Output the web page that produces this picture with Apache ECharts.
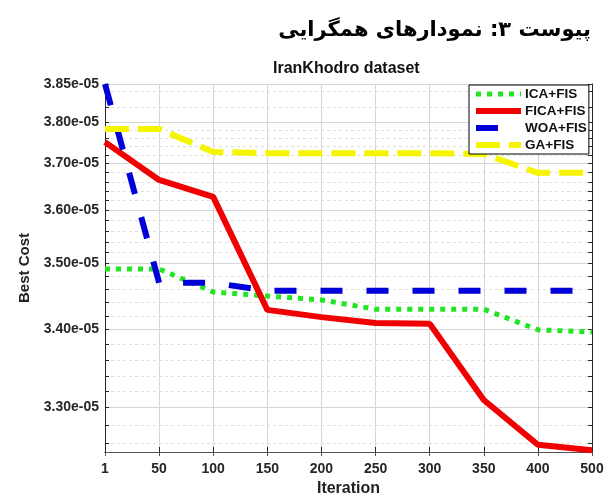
<!DOCTYPE html>
<html>
<head>
<meta charset="utf-8">
<script src="https://cdn.jsdelivr.net/npm/echarts@6/dist/echarts.min.js"></script>
<style>
html, body { margin: 0; padding: 0; background: #fff; }
#chart { width: 609px; height: 497px; }
</style>
</head>
<body>
<div id="chart"></div>
<script>
// iterations shown on the x axis (evenly spaced, 450 skipped in the original)
var iterations = ['1', '50', '100', '150', '200', '250', '300', '350', '400', '500'];

// best cost per method
var icaFis  = [3.491e-5, 3.491e-5, 3.456e-5, 3.450e-5, 3.444e-5, 3.430e-5, 3.430e-5, 3.430e-5, 3.399e-5, 3.396e-5];
var ficaFis = [3.751e-5, 3.664e-5, 3.628e-5, 3.429e-5, 3.418e-5, 3.409e-5, 3.408e-5, 3.309e-5, 3.258e-5, 3.252e-5];
var woaFis  = [3.850e-5, 3.470e-5, 3.470e-5, 3.458e-5, 3.458e-5, 3.458e-5, 3.458e-5, 3.458e-5, 3.458e-5, 3.458e-5];
var gaFis   = [3.783e-5, 3.783e-5, 3.727e-5, 3.724e-5, 3.724e-5, 3.724e-5, 3.724e-5, 3.722e-5, 3.679e-5, 3.679e-5];

var yTickLabels = [3.30e-5, 3.40e-5, 3.50e-5, 3.60e-5, 3.70e-5, 3.80e-5, 3.85e-5];

// the original y axis is non-linear: knots of that scale (value -> axis units)
var scaleValues = [3.25e-5, 3.30e-5, 3.40e-5, 3.50e-5, 3.60e-5, 3.70e-5, 3.80e-5, 3.85e-5];
var scaleUnits  = [0, 45, 123, 189, 242, 289, 330, 368];

function warp(v) {
    for (var i = 1; i < scaleValues.length; i++) {
        if (v <= scaleValues[i] || i == scaleValues.length - 1) {
            var t = (v - scaleValues[i - 1]) / (scaleValues[i] - scaleValues[i - 1]);
            return scaleUnits[i - 1] + t * (scaleUnits[i] - scaleUnits[i - 1]);
        }
    }
}
function unwarp(u) {
    for (var i = 1; i < scaleUnits.length; i++) {
        if (u <= scaleUnits[i] + 1e-6 || i == scaleUnits.length - 1) {
            var t = (u - scaleUnits[i - 1]) / (scaleUnits[i] - scaleUnits[i - 1]);
            return scaleValues[i - 1] + t * (scaleValues[i] - scaleValues[i - 1]);
        }
    }
}

// minor grid every 0.02e-05
var minorValues = [];
for (var k = 326; k <= 384; k += 2) {
    if (k % 10 != 0) minorValues.push(k / 100 * 1e-5);
}

var font = 'Liberation Sans, Arial, sans-serif';
var majorPos = yTickLabels.map(warp);
var minorPos = minorValues.map(warp);
var allTicks = majorPos.concat(minorPos);

// hidden y axes that only carry the grid lines
var gridAxis = function (ticks, lineStyle) {
    return {
        type: 'value', min: 0, max: 368, position: 'left',
        axisLine: { show: false },
        axisTick: { show: false, customValues: ticks },
        axisLabel: { show: false },
        splitLine: { show: true, lineStyle: lineStyle }
    };
};

var styles = {
    'ICA+FIS':  { color: '#1fe61f', width: 5, type: [5, 6] },
    'FICA+FIS': { color: '#f00000', width: 6, type: 'solid' },
    'WOA+FIS':  { color: '#0000d8', width: 6, type: [22, 24] },
    'GA+FIS':   { color: '#f5f500', width: 6, type: [24, 9] }
};

var legendItem = function (name) {
    return { name: name, itemStyle: { opacity: 0 }, lineStyle: styles[name] };
};

var lineSeries = function (name, values) {
    return {
        name: name,
        type: 'line',
        data: values.map(warp),
        symbol: 'none',
        itemStyle: { color: styles[name].color },
        lineStyle: styles[name]
    };
};

var chart = echarts.init(document.getElementById('chart'));

var option = {
    animation: false,
    backgroundColor: '#fff',
    title: [{
        text: 'پیوست ۳: نمودارهای همگرایی',
        right: 18,
        top: 20,
        padding: 0,
        textStyle: { fontSize: 21, fontWeight: 'bold', fontFamily: 'DejaVu Sans, Noto Sans, sans-serif', color: '#000' }
    }, {
        text: 'IranKhodro dataset',
        left: 273,
        top: 61,
        padding: 0,
        textStyle: { fontSize: 16, fontWeight: 'bold', fontFamily: font, color: '#111' }
    }],
    legend: {
        data: ['ICA+FIS', 'FICA+FIS', 'WOA+FIS', 'GA+FIS'].map(legendItem),
        orient: 'vertical',
        left: 469,
        top: 85,
        itemWidth: 45,
        itemHeight: 13,
        itemGap: 3,
        padding: [2, 2, 2, 4],
        borderColor: '#000',
        borderWidth: 1,
        backgroundColor: '#fff',
        textStyle: { fontSize: 13.5, fontWeight: 'bold', fontFamily: font, color: '#111', padding: [0, 0, 0, -1] }
    },
    grid: { left: 105, right: 17, top: 84, bottom: 45, outerBoundsMode: 'none' },
    xAxis: [{
        type: 'category',
        data: iterations,
        boundaryGap: false,
        name: 'Iteration',
        nameLocation: 'middle',
        nameGap: 29,
        nameTextStyle: { fontSize: 16, fontWeight: 'bold', fontFamily: font, color: '#222' },
        axisLine: { lineStyle: { color: '#262626', width: 1 } },
        axisTick: { inside: true, length: 5, lineStyle: { color: '#262626' } },
        axisLabel: { margin: 10, fontSize: 14, fontWeight: 'bold', fontFamily: font, color: '#262626' },
        splitLine: { show: true, lineStyle: { color: '#d6d6d6', width: 1 } }
    }, {
        type: 'category',
        data: iterations,
        boundaryGap: false,
        position: 'top',
        axisLine: { lineStyle: { color: '#555', width: 1 } },
        axisTick: { inside: true, length: 4, lineStyle: { color: '#555' } },
        axisLabel: { show: false },
        splitLine: { show: false }
    }],
    yAxis: [{
        type: 'value',
        min: 0,
        max: 368,
        name: 'Best Cost',
        nameLocation: 'middle',
        nameGap: 66,
        nameTextStyle: { fontSize: 15, fontWeight: 'bold', fontFamily: font, color: '#222' },
        axisLine: { show: true, lineStyle: { color: '#262626', width: 1 } },
        axisTick: { show: true, inside: true, length: 4, customValues: allTicks, lineStyle: { color: '#262626' } },
        axisLabel: {
            margin: 6, fontSize: 14, fontWeight: 'bold', fontFamily: font, color: '#262626',
            customValues: majorPos,
            formatter: function (u) { return (unwarp(u) * 1e5).toFixed(2) + 'e-05'; }
        },
        splitLine: { show: false }
    }, {
        type: 'value',
        min: 0,
        max: 368,
        position: 'right',
        axisLine: { show: true, lineStyle: { color: '#262626', width: 1 } },
        axisTick: { show: true, inside: true, length: 4, customValues: allTicks, lineStyle: { color: '#262626' } },
        axisLabel: { show: false },
        splitLine: { show: false }
    },
        gridAxis(majorPos, { color: '#d6d6d6', type: 'solid', width: 1 }),
        gridAxis(minorPos, { color: '#dedede', type: [3, 3], width: 1 })
    ],
    series: [
        lineSeries('ICA+FIS', icaFis),
        lineSeries('FICA+FIS', ficaFis),
        lineSeries('WOA+FIS', woaFis),
        lineSeries('GA+FIS', gaFis)
    ]
};

chart.setOption(option);
</script>
</body>
</html>
